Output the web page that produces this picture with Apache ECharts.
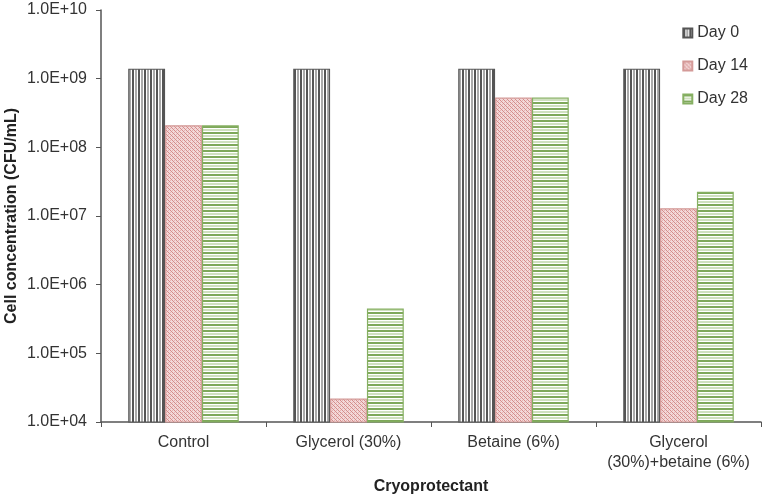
<!DOCTYPE html>
<html><head><meta charset="utf-8">
<script src="https://cdn.jsdelivr.net/npm/echarts@6/dist/echarts.min.js"></script>
<style>html,body{margin:0;padding:0;background:#fff}#c{width:764px;height:498px}</style>
</head><body><div id="c"></div>
<script>
const categories = ['Control', 'Glycerol (30%)', 'Betaine (6%)', 'Glycerol\n(30%)+betaine (6%)'];
const seriesNames = ['Day 0', 'Day 14', 'Day 28'];
const day0 = [1.4e9, 1.4e9, 1.4e9, 1.4e9];
const day14 = [2.1e8, 2.2e4, 5.3e8, 1.3e7];
const day28 = [2.1e8, 4.5e5, 5.3e8, 2.25e7];
const yTicks = ['1.0E+04','1.0E+05','1.0E+06','1.0E+07','1.0E+08','1.0E+09','1.0E+10'];

function pat(w, h, draw) {
  const c = document.createElement('canvas'); c.width = w; c.height = h;
  const g = c.getContext('2d'); g.fillStyle = '#fff'; g.fillRect(0, 0, w, h); draw(g); return c;
}
const p0 = pat(6, 6, g => { g.fillStyle = '#555'; g.fillRect(0, 0, 2, 6); g.fillStyle = '#aaa'; g.fillRect(3, 0, 2, 6); });
const p14 = pat(4, 4, g => { g.fillStyle = '#f3d9d9'; g.fillRect(0,0,4,4); g.fillStyle = '#d48c8b';
  g.fillRect(0,0,1,1); g.fillRect(1,1,1,1); g.fillRect(2,2,1,1); g.fillRect(3,3,1,1); g.fillStyle='#e6b3b2'; g.fillRect(2,0,1,1); g.fillRect(0,2,1,1);});
const p28 = pat(6, 6, g => { g.fillStyle = '#7ea85a'; g.fillRect(0, 0, 6, 2); g.fillStyle = '#cfe0bf'; g.fillRect(0, 3, 6, 2); });

const chart = echarts.init(document.getElementById('c'), null, {renderer: 'canvas'});
const fills = [p0, p14, p28];
const borders = ['#555555', '#d49a98', '#86b062'];
const data = [day0, day14, day28];
const font = 'Liberation Sans';
chart.setOption({
  animation: false,
  grid: {left: 101, right: 3, top: 10, bottom: 76, containLabel: false, outerBoundsMode: 'none'},
  legend: {
    orient: 'vertical', right: 11, top: 20, itemGap: 17, itemWidth: 9, itemHeight: 9,
    textStyle: {fontFamily: font, fontSize: 16, color: '#333'},
    data: seriesNames.map(n => ({name: n, icon: 'rect'}))
  },
  xAxis: {
    type: 'category', data: categories,
    name: 'Cryoprotectant', nameLocation: 'middle', nameGap: 57,
    nameTextStyle: {fontFamily: font, fontSize: 16, fontWeight: 'bold', color: '#222'},
    axisLine: {lineStyle: {color: '#555', width: 1.5}},
    axisTick: {show: true, length: 5, lineStyle: {color: '#555'}},
    axisLabel: {interval: 0, hideOverlap: false, fontFamily: font, fontSize: 16, color: '#333', margin: 11, lineHeight: 20}
  },
  yAxis: {
    type: 'log', logBase: 10, min: 1e4, max: 1e10,
    name: 'Cell concentration (CFU/mL)', nameLocation: 'middle', nameGap: 81, nameMoveOverlap: false,
    nameTextStyle: {fontFamily: font, fontSize: 16, fontWeight: 'bold', color: '#222'},
    axisLine: {show: true, lineStyle: {color: '#555', width: 1.5}},
    axisTick: {show: true, length: 5, lineStyle: {color: '#555'}},
    splitLine: {show: false},
    axisLabel: {fontFamily: font, fontSize: 16, color: '#333', margin: 14,
      formatter: v => yTicks[Math.round(Math.log10(v)) - 4]}
  },
  series: seriesNames.map((n, i) => ({
    name: n, type: 'bar', data: data[i], barGap: '0%', barCategoryGap: '33%',
    itemStyle: {color: {image: fills[i], repeat: 'repeat'}, borderColor: borders[i], borderWidth: 1.2}
  }))
});
</script></body></html>
